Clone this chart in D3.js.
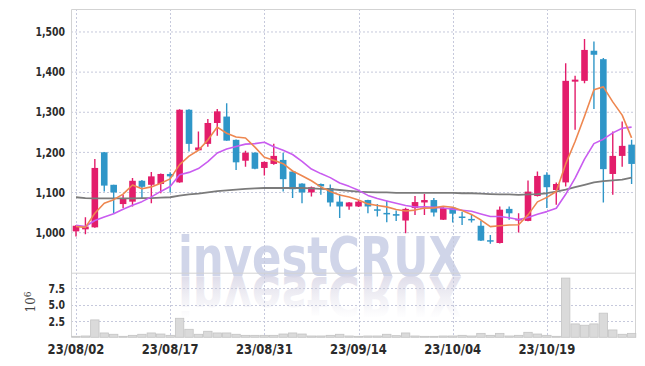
<!DOCTYPE html>
<html>
<head>
<meta charset="utf-8">
<script src="https://cdn.jsdelivr.net/npm/d3@7/dist/d3.min.js"></script>
<style>
body { margin: 0; background: #fff; }
svg text { font-family: "Liberation Sans Narrow", "DejaVu Sans Condensed", sans-serif; }
</style>
</head>
<body>
<svg id="vis"></svg>
<script>
const dates = ["23/08/02","23/08/03","23/08/04","23/08/07","23/08/08","23/08/09","23/08/10","23/08/11","23/08/14","23/08/16",
    "23/08/17","23/08/18","23/08/21","23/08/22","23/08/23","23/08/24","23/08/25","23/08/28","23/08/29","23/08/30",
    "23/08/31","23/09/01","23/09/04","23/09/05","23/09/06","23/09/07","23/09/08","23/09/11","23/09/12","23/09/13",
    "23/09/14","23/09/15","23/09/18","23/09/19","23/09/20","23/09/21","23/09/22","23/09/25","23/09/26","23/09/27",
    "23/10/04","23/10/05","23/10/06","23/10/10","23/10/11","23/10/12","23/10/13","23/10/16","23/10/17","23/10/18",
    "23/10/19","23/10/20","23/10/23","23/10/24","23/10/25","23/10/26","23/10/27","23/10/30","23/10/31","23/11/01"];

const opens = [1002,1007,1012,1199,1118,1070,1076,1128,1118,1120,
    1145,1124,1305,1204,1220,1272,1288,1230,1178,1198,
    1160,1170,1180,1151,1121,1099,1120,1110,1076,1064,
    1064,1080,1057,1048,1045,1029,1060,1074,1080,1031,
    1061,1039,1033,1016,980,973,1058,1029,1028,1090,
    1143,1105,1124,1375,1377,1452,1431,1145,1190,1218];
const highs = [1018,1037,1182,1200,1118,1093,1135,1130,1150,1146,
    1149,1306,1306,1251,1282,1307,1321,1231,1203,1199,
    1176,1220,1198,1152,1122,1114,1121,1119,1095,1075,
    1080,1081,1070,1078,1054,1061,1090,1095,1085,1064,
    1063,1051,1043,1028,993,1064,1064,1047,1129,1151,
    1149,1124,1421,1390,1481,1475,1434,1251,1276,1230];
const lows = [989,995,1011,1101,1047,1060,1064,1085,1072,1097,
    1099,1123,1201,1203,1213,1240,1228,1155,1163,1157,
    1141,1168,1101,1085,1072,1089,1093,1064,1035,1056,
    1063,1047,1039,1025,1028,997,1043,1043,1039,1030,
    1024,1018,1024,978,971,972,1031,999,1027,1089,
    1060,1068,1114,1255,1371,1307,1074,1093,1163,1120];
const closes = [1016,1014,1160,1116,1099,1085,1128,1113,1139,1145,
    1139,1305,1220,1211,1272,1301,1228,1174,1198,1158,
    1175,1190,1132,1107,1099,1112,1114,1074,1064,1074,
    1076,1064,1055,1046,1041,1058,1075,1080,1049,1060,
    1046,1036,1030,979,978,1056,1047,1033,1101,1140,
    1112,1120,1377,1380,1454,1442,1157,1190,1215,1170];

// volume, millions of shares
const volumes = [0.15,0.2,2.65,0.66,0.46,0.15,0.3,0.46,0.66,0.5,
    0.3,2.9,1.22,0.46,0.92,0.66,0.66,0.46,0.3,0.3,
    0.3,0.3,0.5,0.66,0.5,0.2,0.2,0.3,0.46,0.2,
    0.15,0.2,0.2,0.46,0.25,0.66,0.2,0.15,0.15,0.2,
    0.2,0.3,0.2,0.6,0.3,0.6,0.2,0.3,0.76,0.5,
    0.3,0.15,9.03,2.04,1.84,2.04,3.68,1.12,0.46,0.6];

const ma5 = [1014,1012,1047,1072,1081,1094.8,1117.6,1108.2,1112.8,1122,
    1132.8,1168.2,1189.6,1204,1229.4,1261.8,1246.4,1237.2,1234.6,1211.8,
    1186.6,1179,1170.6,1152.4,1140.6,1128,1112.8,1101.2,1092.6,1087.6,
    1080.4,1070.4,1066.6,1063,1056.4,1052.8,1055,1060,1060.6,1064.4,
    1062,1054.2,1044.2,1030.2,1013.8,1015.8,1018,1018.6,1043,1075.4,
    1086.6,1101.2,1170,1225.8,1288.6,1354.6,1362,1324.6,1291.6,1234.8];
const ma10 = [1017,1014,1029,1038,1046,1057,1067,1076,1088,1101.5,
    1113.8,1142.9,1148.9,1158.4,1175.7,1197.3,1207.3,1213.4,1219.3,1220.6,
    1224.2,1212.7,1203.9,1193.5,1176.2,1157.3,1145.9,1135.9,1122.5,1114.1,
    1104.2,1091.6,1083.9,1077.8,1072,1066.6,1062.7,1063.3,1061.8,1060.4,
    1057.4,1054.6,1052.1,1045.4,1039.1,1038.9,1036.1,1031.4,1036.6,1044.6,
    1051.2,1059.6,1094.3,1134.4,1182,1220.6,1231.6,1247.3,1258.7,1261.7];
const maLong = [1087,1085,1084,1084,1084,1084,1084,1085,1085,1086,
    1087,1091,1094,1096,1099,1102,1104,1106,1108,1109,
    1110,1110,1110,1110,1110,1109,1108,1107,1105,1103,
    1101,1100,1099,1099,1098,1098,1098,1098,1098,1098,
    1098,1097,1097,1096,1095,1094,1094,1093,1094,1095,
    1097,1101,1106,1112,1118,1124,1127,1129,1131,1136];

const priceTicks = [1000, 1100, 1200, 1300, 1400, 1500];
const volumeTicks = [2.5, 5.0, 7.5];
const dateTicks = ["23/08/02", "23/08/17", "23/08/31", "23/09/14", "23/10/04", "23/10/19"];

const UP_COLOR = "#e31d6b";
const DOWN_COLOR = "#2f96c8";
const GRID_COLOR = "#c6c9dc";
const FRAME_COLOR = "#d3d3d3";

const W = 645, H = 366;
const plotLeft = 71, plotRight = 635, plotTop = 9, split = 272.7, plotBottom = 337.3;

const svg = d3.select("#vis").attr("width", W).attr("height", H);

const x = d3.scalePoint().domain(dates).range([76, 631.6]);
const step = x.step();
const yPrice = d3.scaleLinear().domain([899, 1556]).range([split, plotTop]);
const yVol = d3.scaleLinear().domain([0, 9.85]).range([plotBottom, split]);

const candles = dates.map((d, i) => ({
    date: d, o: opens[i], h: highs[i], l: lows[i], c: closes[i], v: volumes[i]
}));

const defs = svg.append("defs");
defs.append("clipPath").attr("id", "mainClip")
    .append("rect").attr("x", plotLeft).attr("y", plotTop)
    .attr("width", plotRight - plotLeft).attr("height", split - plotTop);

// watermark with reflection
const grad = defs.append("linearGradient").attr("id", "reflGrad")
    .attr("x1", 0).attr("y1", 0).attr("x2", 0).attr("y2", 1);
grad.append("stop").attr("offset", "0.15").attr("stop-color", "#e2e0eb").attr("stop-opacity", 0);
grad.append("stop").attr("offset", "0.9").attr("stop-color", "#d9d7e6").attr("stop-opacity", 1);

const wm = svg.append("g").attr("class", "watermark")
    .style("font-family", "'DejaVu Sans', sans-serif")
    .style("font-weight", "bold").style("font-size", "55px");
wm.append("text")
    .attr("x", 178).attr("y", 276)
    .attr("textLength", 284).attr("lengthAdjust", "spacingAndGlyphs")
    .attr("fill", "#d0d5e9")
    .text("investCRUX");
wm.append("text")
    .attr("x", 178).attr("y", 277)
    .attr("transform", "translate(0,554) scale(1,-1)")
    .attr("textLength", 284).attr("lengthAdjust", "spacingAndGlyphs")
    .attr("fill", "url(#reflGrad)")
    .text("investCRUX");

// grids
const grid = svg.append("g").attr("stroke", GRID_COLOR).attr("stroke-dasharray", "2,2").attr("stroke-width", 1);
grid.selectAll(".hgrid").data(priceTicks).join("line")
    .attr("x1", plotLeft).attr("x2", plotRight)
    .attr("y1", d => yPrice(d) + 0.5).attr("y2", d => yPrice(d) + 0.5);
grid.selectAll(".vgrid").data(volumeTicks).join("line")
    .attr("x1", plotLeft).attr("x2", plotRight)
    .attr("y1", d => Math.round(yVol(d)) + 0.5).attr("y2", d => Math.round(yVol(d)) + 0.5);
grid.selectAll(".xgrid").data(dateTicks).join("line")
    .attr("x1", d => Math.round(x(d)) + 0.5).attr("x2", d => Math.round(x(d)) + 0.5)
    .attr("y1", plotTop).attr("y2", plotBottom);

// frame
const frame = svg.append("g").attr("stroke", FRAME_COLOR).attr("stroke-width", 1).attr("fill", "none");
frame.append("path").attr("d", `M${plotLeft + 0.5},${plotBottom} V${plotTop + 0.5} H${plotRight + 0.5} V${plotBottom}`);
frame.append("line").attr("x1", plotLeft).attr("x2", plotRight).attr("y1", split + 0.5).attr("y2", split + 0.5);

// volume bars
svg.append("g").selectAll("rect").data(candles).join("rect")
    .attr("x", d => x(d.date) - step / 2 + 0.5)
    .attr("width", step - 1)
    .attr("y", d => yVol(d.v))
    .attr("height", d => yVol(0) - yVol(d.v))
    .attr("fill", "#dadada")
    .attr("stroke", "#c4c4c4")
    .attr("stroke-width", 0.8);

// candles
const cg = svg.append("g").attr("clip-path", "url(#mainClip)");
const bodyW = 6.6;
cg.selectAll(".wick").data(candles).join("line")
    .attr("class", "wick")
    .attr("x1", d => x(d.date)).attr("x2", d => x(d.date))
    .attr("y1", d => yPrice(d.h)).attr("y2", d => yPrice(d.l))
    .attr("stroke", d => d.c >= d.o ? UP_COLOR : DOWN_COLOR)
    .attr("stroke-width", 1.4);
cg.selectAll(".body").data(candles).join("rect")
    .attr("class", "body")
    .attr("x", d => x(d.date) - bodyW / 2)
    .attr("width", bodyW)
    .attr("y", d => yPrice(Math.max(d.o, d.c)))
    .attr("height", d => Math.max(1.5, Math.abs(yPrice(d.o) - yPrice(d.c))))
    .attr("fill", d => d.c >= d.o ? UP_COLOR : DOWN_COLOR);

// moving averages
const maSeries = [
    {name: "maLong", values: maLong, color: "#7b7b7b", width: 1.8},
    {name: "ma10", values: ma10, color: "#c95cf0", width: 1.6},
    {name: "ma5", values: ma5, color: "#ee8750", width: 1.6}
];
const line = d3.line().x((d, i) => x(dates[i])).y(d => yPrice(d));
cg.selectAll(".ma").data(maSeries).join("path")
    .attr("class", "ma")
    .attr("d", d => line(d.values))
    .attr("fill", "none")
    .attr("stroke", d => d.color)
    .attr("stroke-width", d => d.width)
    .attr("stroke-linejoin", "round");

// axes labels (narrowed to match the condensed face)
const labelColor = "#2b2b2b";
svg.append("g").selectAll("text").data(priceTicks).join("text")
    .attr("transform", d => `translate(65,${yPrice(d)}) scale(0.8,1)`)
    .attr("dy", "0.36em")
    .attr("text-anchor", "end")
    .attr("fill", labelColor)
    .style("font-size", "13px").style("font-weight", "bold")
    .text(d => d3.format(",")(d));

svg.append("g").selectAll("text").data(volumeTicks).join("text")
    .attr("transform", d => `translate(65,${yVol(d)}) scale(0.8,1)`)
    .attr("dy", "0.36em")
    .attr("text-anchor", "end")
    .attr("fill", labelColor)
    .style("font-size", "13px").style("font-weight", "bold")
    .text(d => d3.format(".1f")(d));

svg.append("g").selectAll("text").data(dateTicks).join("text")
    .attr("transform", d => `translate(${x(d)},353.5) scale(0.92,1)`)
    .attr("text-anchor", "middle")
    .attr("fill", labelColor)
    .style("font-size", "14px").style("font-weight", "bold")
    .text(d => d);

const unit = svg.append("text")
    .attr("transform", "translate(35,302) rotate(-90)")
    .attr("text-anchor", "middle")
    .attr("fill", "#444")
    .style("font-family", "'DejaVu Serif', serif")
    .style("font-size", "12px");
unit.append("tspan").text("10");
unit.append("tspan").attr("dy", "-0.5em").style("font-size", "9px").text("6");
</script>
</body>
</html>
